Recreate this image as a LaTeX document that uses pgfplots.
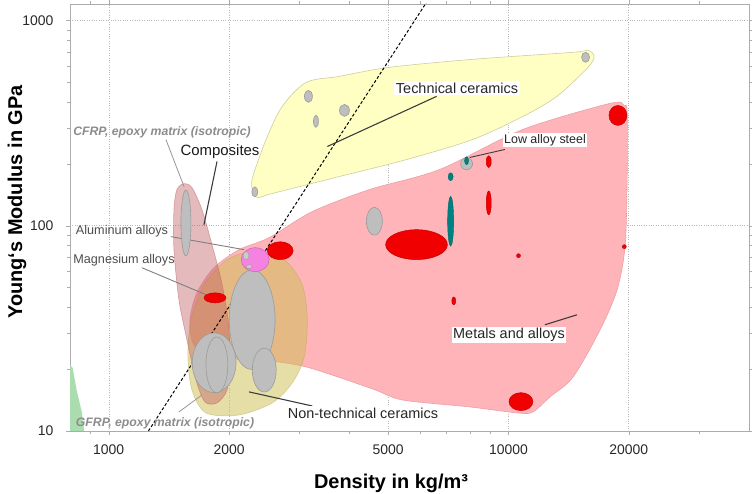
\documentclass[border=0pt]{standalone}
\usepackage{pgfplots}
\pgfplotsset{compat=1.18}
\usepackage{fontspec}
\setmainfont{Liberation Sans}
\definecolor{techfill}{RGB}{255,255,196}
\definecolor{techdraw}{RGB}{205,205,160}
\definecolor{metfill}{RGB}{255,180,186}
\definecolor{metdraw}{RGB}{235,160,165}
\definecolor{ntcfill}{RGB}{205,190,80}
\definecolor{compfill}{RGB}{190,90,95}
\definecolor{greyell}{RGB}{190,190,190}
\definecolor{greydraw}{RGB}{155,155,155}
\definecolor{redell}{RGB}{240,0,0}
\definecolor{redd}{RGB}{200,0,0}
\definecolor{tealell}{RGB}{0,128,128}
\definecolor{pinkal}{RGB}{245,130,225}
\definecolor{greenr}{RGB}{170,220,175}
\definecolor{ticktext}{RGB}{40,40,40}
\definecolor{leader}{RGB}{60,60,60}
\definecolor{lightlead}{RGB}{150,150,150}
\definecolor{frp}{RGB}{140,140,140}
\pgfdeclareplotmark{ell}{\pgfpathellipse{\pgfpointorigin}{\pgfpoint{\rx pt}{0pt}}{\pgfpoint{0pt}{\ry pt}}\pgfusepathqfillstroke}
\pgfplotsset{ellipses/.style={only marks, mark=ell,
  visualization depends on={value \thisrow{rx}\as\rx},
  visualization depends on={value \thisrow{ry}\as\ry}}}
\begin{document}
\begin{tikzpicture}
\begin{axis}[
  scale only axis, width=679bp, height=427bp, at={(0,0)}, anchor=south west,
  xmode=log, ymode=log, xmin=800, xmax=40000, ymin=10, ymax=1200,
  xtick={1000,2000,5000,10000,20000}, xticklabels={1000,2000,5000,10000,20000},
  ytick={10,100,1000}, yticklabels={10,100,1000},
  minor xtick={900,3000,4000,6000,7000,8000,9000,30000},
  minor ytick={20,30,40,50,60,70,80,90,200,300,400,500,600,700,800,900},
  grid=major, major grid style={dotted, gray!55},
  axis line style={gray!65, line width=0.8bp},
  tick style={gray!65}, tick align=outside, major tick length=4bp, minor tick length=3bp,
  ticklabel style={font=\fontsize{14}{16}\selectfont, text=ticktext},
  xticklabel style={yshift=-6bp},
  yticklabel style={xshift=-9bp},
  /pgf/number format/assume math mode=true,
]
% Metals and alloys
\addplot[fill=metfill, draw=metdraw, line width=0.6bp, smooth cycle] coordinates {
(2119,76.4) (2520,87.4) (3230,117) (4491,149.8) (6728,187.6) (10867,293.9) (17964,393.7) (19476,384.9) (19822,355.8) (19822,167.6) (19588,79.0) (18707,48.7) (16960,31.1) (14508,18.3) (12703,14.65) (11515,12.38) (10559,12.24) (8003,13.1) (5435,14.16) (4570,16.03) (3121,20.5) (2378,22.2) (1834,22.7) (1634,26.3) (1597,34.8) (1663,47.1) (1834,62.4)};
% Technical ceramics
\addplot[fill=techfill, draw=techdraw, line width=0.6bp, smooth cycle] coordinates {
(2311,141.7) (2284,167.6) (2476,262.7) (2717,380.6) (3121,498.3) (3776,533.2) (5041,589.9) (8142,645.3) (14508,698.1) (15822,714) (16381,667.4) (15822,589.9) (13225,425.9) (10867,340.2) (8142,262.7) (5562,209.8) (3776,173.4) (2564,143.3) (2378,137.0)};
% green sliver
\addplot[fill=greenr, draw=none] coordinates {(800,21) (812,20.3) (831,15.85) (856,12.4) (871,9.5)} \closedcycle;
% Non-technical ceramics
\addplot[fill=ntcfill, fill opacity=0.5, draw=ntcfill!70!gray, draw opacity=0.5, line width=0.6bp, smooth cycle] coordinates {
(2311,74.7) (2748,68.3) (3050,51.5) (3139,34.8) (3085,22.96) (2879,17.15) (2564,13.7) (2119,11.97) (1751,12.24) (1615,15.85) (1578,22.96) (1606,34.8) (1731,51.5) (1977,68.3)};
% Composites
\addplot[fill=compfill, fill opacity=0.42, draw=compfill, draw opacity=0.5, line width=0.6bp, smooth cycle] coordinates {
(1543,160.2) (1615,153.2) (1711,119.7) (1813,80.8) (1910,54.5) (1989,34.8) (2012,22.2) (1977,15.85) (1866,13.7) (1741,13.85) (1653,17.7) (1569,27.8) (1498,43.6) (1456,76.4) (1456,119.7) (1481,149.8)};
% grey ellipses
\addplot[ellipses, mark options={fill=greyell, draw=greydraw, line width=0.6bp}] table {
x y rx ry
3160 426 4 6
3890 364 5 6
3300 322 2.5 6
2320 146 3 5
15600 660 4 5
1560 103 5 33
2285 34.8 23 50
2450 19.8 12 22
1835 21.5 22 30
1865 21 11 28
4620 105 8 14
7860 200 6 6
};
% aluminium alloys
\addplot[ellipses, mark options={fill=pinkal, draw=pinkal!80!black, line width=0.5bp}] table {
x y rx ry
2325 68.3 14 12
};
\addplot[ellipses, mark options={fill=greyell!80!white, draw=greydraw, line width=0.4bp}] table {
x y rx ry
2206 71.4 3 4
2245 63.1 3 2
};
% red ellipses
\addplot[ellipses, mark options={fill=redell, draw=redd, line width=0.5bp}] table {
x y rx ry
2685 75.5 13 9
1845 44.5 11 5
5890 80.8 31 15
8930 129 2.5 12
8930 205 2.5 6
7300 43 2 4
10600 71.4 2 2
19500 79 2 2
10750 13.9 12 9
18800 344 9 10
};
% teal
\addplot[ellipses, mark options={fill=tealell, draw=tealell!80!black, line width=0.4bp}] table {
x y rx ry
7170 105 3 25
7170 173 2.5 4
7860 207 2 4
};
% dashed guide line
\addplot[black, line width=1bp, dash pattern=on 3bp off 2bp] coordinates {(1257,10) (6300,1259)};
% leader lines
\addplot[leader, line width=1.1bp] coordinates {(6613,426) (3524,242.9)};
\addplot[leader, line width=0.9bp] coordinates {(9795,234.8) (8003,214.7)};
\addplot[leader, line width=1.1bp] coordinates {(1866,205.2) (1731,101.1)};
\addplot[lightlead, line width=0.8bp] coordinates {(1390,262.7) (1543,155)};
\addplot[gray, line width=0.9bp] coordinates {(1430,88.4) (2181,76.4)};
\addplot[gray, line width=0.9bp] coordinates {(1210,62.4) (1751,46.1)};
\addplot[leader, line width=1.1bp] coordinates {(12339,32.9) (14848,36.8)};
\addplot[leader, line width=1.1bp] coordinates {(2245,15.5) (3230,13.24)};
\addplot[lightlead, line width=0.8bp] coordinates {(1498,12.38) (1711,14.98)};
\end{axis}
% annotations (positions in bp relative to the axis' lower left corner)
\node[fill=white, inner sep=1.5bp, text=black!85, font=\fontsize{14.5}{16}\selectfont] at (387bp,343bp) {Technical ceramics};
\node[fill=white, inner sep=1.5bp, text=black!85, font=\fontsize{12.5}{14}\selectfont] at (475bp,291bp) {Low alloy steel};
\node[inner sep=1bp, text=black!90, font=\fontsize{15}{17}\selectfont] at (150bp,279bp) {Composites};
\node[inner sep=1bp, text=frp, font=\fontsize{12.3}{14}\selectfont\bfseries\itshape] at (92bp,299bp) {CFRP, epoxy matrix (isotropic)};
\node[inner sep=1bp, text=black!70, font=\fontsize{12.7}{14}\selectfont] at (52bp,200bp) {Aluminum alloys};
\node[inner sep=1bp, text=black!70, font=\fontsize{12.7}{14}\selectfont] at (54bp,171bp) {Magnesium alloys};
\node[fill=white, inner sep=1.5bp, text=black!85, font=\fontsize{14.5}{16}\selectfont] at (439bp,96bp) {Metals and alloys};
\node[fill=white, inner sep=1.5bp, text=black!85, font=\fontsize{14.5}{16}\selectfont] at (293bp,18bp) {Non-technical ceramics};
\node[inner sep=1bp, text=frp, font=\fontsize{12.3}{14}\selectfont\bfseries\itshape] at (95bp,8bp) {GFRP, epoxy matrix (isotropic)};
\node[rotate=90, font=\fontsize{20}{22}\selectfont\bfseries] at (-53bp,229bp) {Young‘s Modulus in GPa};
\node[anchor=base, font=\fontsize{20}{22}\selectfont\bfseries] at (321bp,-57bp) {Density in kg/m³};
\pgfresetboundingbox
\path[use as bounding box] (-70bp,-63bp) rectangle (682bp,431bp);
\end{tikzpicture}
\end{document}
